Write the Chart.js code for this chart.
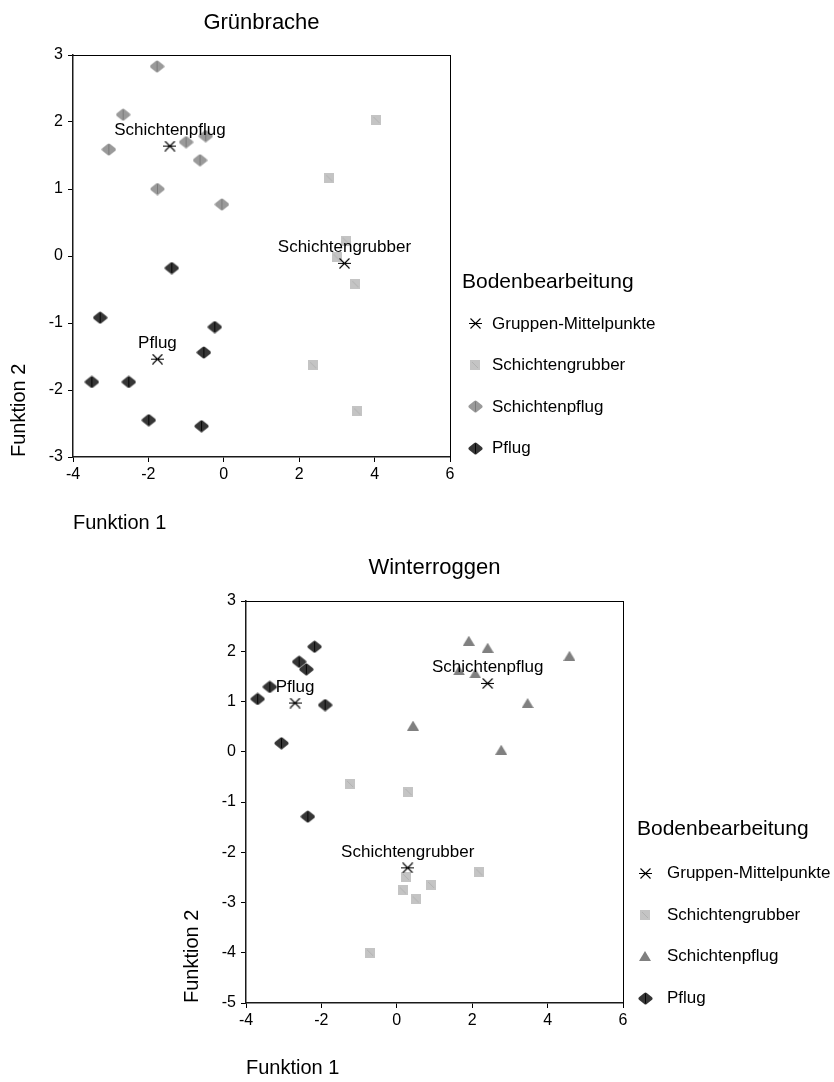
<!DOCTYPE html>
<html>
<head>
<meta charset="utf-8">
<script src="https://cdn.jsdelivr.net/npm/chart.js@4.4.1/dist/chart.umd.min.js"></script>
<style>
    body { margin: 0; background: #fff; }
    #page { position: relative; width: 834px; height: 1082px; font-family: "Liberation Sans", Arial, sans-serif; color: #000; }
    #page canvas { position: absolute; }
    .legTitle { position: absolute; font-size: 21px; line-height: 24px; white-space: nowrap; }
    .legText { position: absolute; font-size: 17px; line-height: 20px; white-space: nowrap; }
</style>
</head>
<body>
<div id="page">
    <canvas id="gbChart" width="470" height="535" style="left:0px;top:0px"></canvas>
    <canvas id="wrChart" width="470" height="535" style="left:173px;top:545px"></canvas>
</div>
<script>
const seriesNames = ["Gruppen-Mittelpunkte", "Schichtengrubber", "Schichtenpflug", "Pflug"];
const meanNames = ["Schichtengrubber", "Schichtenpflug", "Pflug"];
const xTicks = [-4, -2, 0, 2, 4, 6];

// Grünbrache
const gbYTicks = [-3, -2, -1, 0, 1, 2, 3];
const gbMeanX = [3.20, -1.43, -1.76];
const gbMeanY = [-0.11, 1.64, -1.54];
const gbGrubberX = [4.05, 2.80, 3.23, 2.99, 3.49, 2.37, 3.54];
const gbGrubberY = [2.03, 1.16, 0.23, -0.02, -0.42, -1.63, -2.32];
const gbSPflugX = [-1.77, -2.67, -3.05, -1.00, -0.48, -0.63, -1.76, -0.05];
const gbSPflugY = [2.83, 2.11, 1.59, 1.70, 1.79, 1.43, 1.00, 0.77];
const gbPflugX = [-1.38, -3.28, -0.24, -0.53, -3.50, -2.52, -1.99, -0.59];
const gbPflugY = [-0.18, -0.92, -1.06, -1.44, -1.88, -1.88, -2.45, -2.54];

// Winterroggen
const wrYTicks = [-5, -4, -3, -2, -1, 0, 1, 2, 3];
const wrMeanX = [0.29, 2.41, -2.70];
const wrMeanY = [-2.31, 1.36, 0.97];
const wrGrubberX = [-1.24, 0.31, 2.19, 0.24, 0.91, 0.16, 0.50, -0.71];
const wrGrubberY = [-0.64, -0.80, -2.40, -2.49, -2.65, -2.76, -2.94, -4.00];
const wrSPflugX = [1.91, 2.41, 4.58, 2.08, 1.65, 3.47, 0.43, 2.77];
const wrSPflugY = [2.21, 2.07, 1.91, 1.56, 1.62, 0.97, 0.52, 0.04];
const wrPflugX = [-2.18, -2.59, -2.40, -3.37, -3.69, -1.90, -3.06, -2.36];
const wrPflugY = [2.09, 1.79, 1.64, 1.29, 1.05, 0.93, 0.17, -1.29];

Chart.defaults.font.family = "'Liberation Sans', Arial, sans-serif";
Chart.defaults.color = "#000";

function pts(xs, ys) {
    return xs.map((x, i) => ({x: x, y: ys[i]}));
}

// little canvases used as point styles (and in the legend)
function marker(kind, color, stripe) {
    const c = document.createElement("canvas");
    const g = c.getContext("2d");
    if (kind === "star") {
        c.width = 13; c.height = 11;
        g.strokeStyle = "#000";
        g.lineWidth = 1.1;
        g.beginPath();
        g.moveTo(0, 5.5); g.lineTo(13, 5.5);
        g.moveTo(1.5, 0.5); g.lineTo(11.5, 10.5);
        g.moveTo(11.5, 0.5); g.lineTo(1.5, 10.5);
        g.stroke();
    } else if (kind === "diamond") {
        c.width = 15; c.height = 13;
        g.fillStyle = color;
        g.strokeStyle = color;
        g.lineWidth = 4;
        g.lineJoin = "round";
        g.beginPath();
        g.moveTo(7.5, 2.5); g.lineTo(12.5, 6.5); g.lineTo(7.5, 10.5); g.lineTo(2.5, 6.5);
        g.closePath();
        g.fill(); g.stroke();
        g.strokeStyle = stripe;
        g.lineWidth = 1;
        g.beginPath();
        g.moveTo(7.5, 1.5); g.lineTo(7.5, 11.5);
        g.stroke();
    } else if (kind === "square") {
        c.width = 10; c.height = 10;
        g.fillStyle = color;
        g.fillRect(0, 0, 10, 10);
        g.strokeStyle = stripe;
        g.lineWidth = 1;
        g.beginPath();
        g.moveTo(2, 2); g.lineTo(8, 8);
        g.stroke();
    } else if (kind === "triangle") {
        c.width = 12; c.height = 10;
        g.fillStyle = color;
        g.beginPath();
        g.moveTo(6, 0); g.lineTo(12, 10); g.lineTo(0, 10);
        g.closePath();
        g.fill();
    }
    return c;
}

const markStar = () => marker("star");
const markGrubber = () => marker("square", "#c4c4c4", "#b2b2b2");
const markGrayDiamond = () => marker("diamond", "#9a9a9a", "#7a7a7a");
const markTriangle = () => marker("triangle", "#808080");
const markDarkDiamond = () => marker("diamond", "#363636", "#050505");

function meanLabelPlugin(names) {
    return {
        id: "meanLabels",
        afterDatasetsDraw(chart) {
            const ctx = chart.ctx;
            ctx.save();
            ctx.font = "17px 'Liberation Sans', Arial, sans-serif";
            ctx.fillStyle = "#000";
            ctx.textAlign = "center";
            ctx.textBaseline = "alphabetic";
            chart.getDatasetMeta(0).data.forEach((p, i) => {
                ctx.fillText(names[i], p.x, p.y - 11);
            });
            ctx.restore();
        }
    };
}

function makeChart(id, c) {
    const tickSet = arr => scale => { scale.ticks = arr.map(v => ({value: v})); };
    return new Chart(document.getElementById(id), {
        type: "scatter",
        data: {
            datasets: [
                {label: seriesNames[0], data: pts(c.meanX, c.meanY), pointStyle: markStar()},
                {label: seriesNames[1], data: pts(c.grubX, c.grubY), pointStyle: markGrubber()},
                {label: seriesNames[2], data: pts(c.spX, c.spY), pointStyle: c.spMarker()},
                {label: seriesNames[3], data: pts(c.pfX, c.pfY), pointStyle: markDarkDiamond()}
            ]
        },
        options: {
            responsive: false,
            animation: false,
            events: [],
            layout: {padding: 0},
            plugins: {
                legend: {display: false},
                tooltip: {enabled: false}
            },
            scales: {
                x: {
                    type: "linear", position: "bottom",
                    min: xTicks[0], max: xTicks[xTicks.length - 1],
                    afterBuildTicks: tickSet(xTicks),
                    afterFit: s => { s.height = c.bottomH; },
                    grid: {drawOnChartArea: false, tickLength: 5, color: "#000"},
                    border: {color: "#1a1a1a", width: 1.5},
                    ticks: {font: {size: 16}, padding: 3, maxRotation: 0, color: "#000"},
                    title: {display: true, text: "Funktion 1", align: "start", font: {size: 20}, padding: 0}
                },
                y: {
                    type: "linear", position: "left",
                    min: c.yTicks[0], max: c.yTicks[c.yTicks.length - 1],
                    afterBuildTicks: tickSet(c.yTicks),
                    afterFit: s => { s.width = 73; },
                    grid: {drawOnChartArea: false, tickLength: 5, color: "#000"},
                    border: {color: "#1a1a1a", width: 1.5},
                    ticks: {font: {size: 16}, padding: 5, color: "#000"},
                    title: {display: true, text: "Funktion 2", align: "start", font: {size: 20}, padding: {top: 7, bottom: 0}}
                },
                x2: {
                    type: "linear", position: "top",
                    min: xTicks[0], max: xTicks[xTicks.length - 1],
                    afterFit: s => { s.height = c.topH; },
                    grid: {display: false},
                    border: {color: "#000", width: 1},
                    ticks: {display: false},
                    title: {display: true, text: c.title, font: {size: 22}, padding: {top: 10, bottom: 0}}
                },
                y2: {
                    type: "linear", position: "right",
                    min: c.yTicks[0], max: c.yTicks[c.yTicks.length - 1],
                    afterFit: s => { s.width = 20; },
                    grid: {display: false},
                    border: {color: "#000", width: 1},
                    ticks: {display: false}
                }
            }
        },
        plugins: [meanLabelPlugin(meanNames)]
    });
}

function makeLegend(l) {
    const page = document.getElementById("page");
    const t = document.createElement("div");
    t.className = "legTitle";
    t.textContent = "Bodenbearbeitung";
    t.style.left = l.left + "px";
    t.style.top = (l.titleY - 12) + "px";
    page.appendChild(t);
    l.markers.forEach((mk, i) => {
        const y = l.firstY + i * l.step;
        const m = mk();
        m.style.left = (l.markX - m.width / 2) + "px";
        m.style.top = (y - m.height / 2) + "px";
        page.appendChild(m);
        const d = document.createElement("div");
        d.className = "legText";
        d.textContent = seriesNames[i];
        d.style.left = l.textX + "px";
        d.style.top = (y - 10) + "px";
        page.appendChild(d);
    });
}

makeChart("gbChart", {
    title: "Grünbrache", yTicks: gbYTicks, topH: 55, bottomH: 78,
    meanX: gbMeanX, meanY: gbMeanY,
    grubX: gbGrubberX, grubY: gbGrubberY,
    spX: gbSPflugX, spY: gbSPflugY, spMarker: markGrayDiamond,
    pfX: gbPflugX, pfY: gbPflugY
});

makeChart("wrChart", {
    title: "Winterroggen", yTicks: wrYTicks, topH: 56, bottomH: 77,
    meanX: wrMeanX, meanY: wrMeanY,
    grubX: wrGrubberX, grubY: wrGrubberY,
    spX: wrSPflugX, spY: wrSPflugY, spMarker: markTriangle,
    pfX: wrPflugX, pfY: wrPflugY
});

makeLegend({left: 462, titleY: 281, markX: 475, textX: 492, firstY: 323.5, step: 41.6,
    markers: [markStar, markGrubber, markGrayDiamond, markDarkDiamond]});
makeLegend({left: 637, titleY: 828, markX: 645, textX: 667, firstY: 873, step: 41.7,
    markers: [markStar, markGrubber, markTriangle, markDarkDiamond]});
</script>
</body>
</html>
